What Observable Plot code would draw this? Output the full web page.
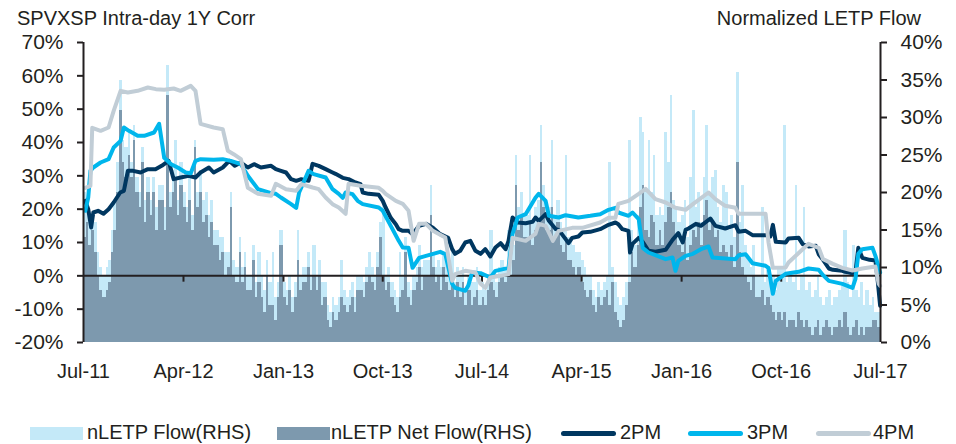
<!DOCTYPE html>
<html><head><meta charset="utf-8">
<script src="https://cdn.jsdelivr.net/npm/d3@7"></script>
<script src="https://cdn.jsdelivr.net/npm/@observablehq/plot@0.6"></script>
<style>
body{margin:0;background:#fff;font-family:"Liberation Sans",sans-serif;}
#wrap{position:relative;width:956px;height:444px;overflow:hidden;background:#fff}
.ttl{position:absolute;font-size:20px;line-height:1;color:#231f20;white-space:nowrap}
.lg{position:absolute;font-size:20px;line-height:1;color:#231f20;white-space:nowrap}
.sw{position:absolute}
</style></head>
<body><div id="wrap"></div>
<script>
// ---------- data ----------
const leftTitle = "SPVXSP Intra-day 1Y Corr";
const rightTitle = "Normalized LETP Flow";
const xTickDates = ["2011-07-01","2012-04-01","2013-01-01","2013-10-01","2014-07-01","2015-04-01","2016-01-01","2016-10-01","2017-07-01"];
const xTickLabels = ["Jul-11","Apr-12","Jan-13","Oct-13","Jul-14","Apr-15","Jan-16","Oct-16","Jul-17"];
const leftTicks = [-20,-10,0,10,20,30,40,50,60,70];
const rightTicks = [0,5,10,15,20,25,30,35,40];
const seriesNames = ["nLETP Flow(RHS)","nLETP Net Flow(RHS)","2PM","3PM","4PM"];

// weekly flow values (RHS %, 4 per month, Jul-2011 .. Jun-2017)
const netFlow = [
14,16,13,15, 12,9,7,6, 7,8,12,15, 20,31,24,22, 25,22,27,20, 18,24,16,20,
17,20,15,19, 19,15,33,18, 20,22,17,21, 18,16,19,15, 26,18,20,16, 17,14,16,13,
13,11,12,9, 10,18,9,8, 12,8,10,7, 7,11,6,8, 6,4,9,5, 5,3,6,13,
6,5,7,4, 6,11,7,8, 8,10,7,9, 7,9,5,6, 3,2,4,3, 4,6,5,4,
5,6,4,7, 7,6,8,9, 8,7,10,14, 9,7,8,6, 5,4,6,7, 12,6,5,7,
8,10,7,9, 9,17,10,8, 9,7,10,8, 7,9,6,8, 6,8,5,7, 5,6,7,5,
6,5,7,8, 7,6,8,9, 8,10,9,11, 21,15,17,14, 14,16,13,15, 16,24,18,15,
15,18,14,16, 13,12,14,11, 11,10,9,10, 8,7,6,7, 5,4,6,5, 6,7,5,8,
4,3,2,3, 5,8,12,10, 13,18,21,15, 14,17,16,13, 15,13,16,18, 20,16,14,13,
12,14,11,13, 15,14,16,13, 17,19,15,16, 14,15,12,13, 12,11,13,10, 24,12,10,9,
8,7,9,6, 6,7,5,6, 5,4,3,4, 3,4,2,3, 3,2,4,3, 2,3,2,1,
2,3,1,2, 3,2,1,2, 2,3,2,4, 2,1,2,3, 1,2,1,2, 2,3,3,2
];
const grossFlow = [
20,18,16,17, 16,12,10,9, 10,11,15,19, 24,35,27,26, 28,24,29,22, 20,26,19,22,
19,22,18,21, 21,18,37,20, 23,27,19,24, 20,18,22,17, 27,20,23,19, 20,17,19,15,
15,14,14,12, 12,20,11,10, 14,10,12,9, 9,13,8,12, 9,7,11,8, 12,6,8,15,
8,7,9,6, 8,15,9,10, 10,12,9,13, 9,11,8,8, 5,4,6,5, 6,11,7,6,
7,8,6,9, 9,8,10,12, 10,9,12,16, 19,9,10,8, 7,6,12,9, 14,8,7,9,
10,13,10,11, 11,21,12,10, 11,10,12,11, 10,12,8,10, 9,10,7,9, 8,8,10,7,
8,7,9,15, 9,8,10,11, 10,15,12,13, 25,18,20,17, 17,25,16,18, 19,29,21,18,
18,27,17,19, 16,15,25,14, 14,13,12,12, 11,10,9,9, 7,6,8,7, 8,9,24,10,
8,6,5,6, 8,27,15,13, 17,30,28,20, 27,20,25,17, 18,17,28,24, 33,19,18,16,
17,19,14,22, 31,18,20,16, 22,29,20,22, 23,18,16,21, 20,15,17,14, 36,16,21,13,
11,10,13,9, 9,18,8,10, 8,9,7,10, 10,29,8,9, 8,21,7,9, 18,7,8,6,
7,9,6,5, 6,7,5,6, 6,7,8,15, 8,6,13,7, 6,8,5,7, 5,6,4,4
];

// intraday correlation lines (LHS %)
const pm2 = [
["2011-07-06",22.5],["2011-07-14",20],["2011-07-22",14.5],["2011-07-28",19],["2011-08-10",19.5],["2011-08-25",18.6],
["2011-09-08",20],["2011-09-22",22],["2011-10-10",25],["2011-10-20",25.5],["2011-10-31",31.5],["2011-11-15",31.5],
["2011-12-05",31],["2011-12-25",32],["2012-01-15",32],["2012-02-01",33],["2012-02-20",34.5],["2012-03-05",29],
["2012-03-24",29.5],["2012-04-15",30],["2012-05-04",29.5],["2012-05-18",31],["2012-06-10",32.5],["2012-06-23",31],
["2012-07-18",32.5],["2012-08-05",34.5],["2012-08-20",33],["2012-09-06",34],["2012-09-25",32.5],["2012-10-12",33.5],
["2012-10-31",32.5],["2012-11-28",33],["2012-12-11",32],["2012-12-25",31.5],["2013-01-08",31],["2013-01-22",29],
["2013-02-05",28.5],["2013-02-19",29],["2013-03-11",28.5],["2013-03-22",33.6],["2013-04-08",33],["2013-04-27",32],
["2013-05-16",31],["2013-05-24",30.6],["2013-06-13",29.4],["2013-06-29",29],["2013-07-18",28],["2013-08-01",27.5],
["2013-08-07",25],["2013-08-23",24.6],["2013-09-20",24.3],["2013-10-01",22.5],["2013-10-09",20.5],["2013-10-23",17.4],
["2013-11-06",15.5],["2013-11-14",14],["2013-11-25",13.5],["2013-12-11",13.5],["2013-12-22",12.5],["2014-01-09",15],
["2014-01-28",15.6],["2014-02-16",14.4],["2014-03-08",12.5],["2014-03-30",11.4],["2014-04-10",8],["2014-04-18",6.6],
["2014-05-02",7.5],["2014-05-16",10],["2014-05-30",10.5],["2014-06-13",7.5],["2014-06-27",6.6],["2014-07-10",8],
["2014-07-24",5.8],["2014-08-07",8.5],["2014-08-21",9.8],["2014-09-04",8],["2014-09-12",10.5],["2014-09-23",17.5],
["2014-10-07",16],["2014-10-29",15.8],["2014-11-17",16.2],["2014-11-25",17.5],["2014-12-04",16.5],["2014-12-23",18.5],
["2015-01-01",16.5],["2015-01-20",14],["2015-01-28",13.8],["2015-02-16",11],["2015-02-24",9.8],["2015-03-06",11.4],
["2015-03-23",11.8],["2015-04-03",13],["2015-04-25",13.2],["2015-05-22",14],["2015-06-14",15.3],["2015-07-03",16],
["2015-07-11",15.5],["2015-07-22",14],["2015-08-08",13.5],["2015-08-12",7],["2015-08-19",9.6],["2015-09-05",11.4],
["2015-09-16",10.2],["2015-10-02",7.5],["2015-10-21",7.2],["2015-11-18",7.8],["2015-12-07",10.8],["2015-12-23",12.8],
["2016-01-04",10],["2016-01-12",13.8],["2016-01-20",14.2],["2016-02-09",15.6],["2016-02-23",15],["2016-03-20",17.2],
["2016-04-03",15],["2016-04-30",14.2],["2016-05-28",15.2],["2016-06-06",13.2],["2016-06-25",13.5],["2016-07-14",12.2],
["2016-08-19",12.2],["2016-09-01",11.8],["2016-09-08",15.3],["2016-09-16",10.2],["2016-10-13",10],["2016-10-21",11.2],
["2016-11-18",11.4],["2016-11-29",9.5],["2016-12-15",8.8],["2017-01-04",9],["2017-01-12",6.5],["2017-01-24",4.8],
["2017-02-09",2.2],["2017-02-20",1.8],["2017-03-18",1.5],["2017-03-26",1.2],["2017-04-15",0.8],["2017-04-23",1.0],
["2017-05-01",8.4],["2017-05-12",5.4],["2017-06-01",4.8],["2017-06-17",4.6],["2017-06-22",0],["2017-06-30",-9]
];
const pm3 = [
["2011-07-06",19.5],["2011-07-14",23.5],["2011-07-20",31.5],["2011-07-28",32.5],["2011-08-17",34],["2011-09-08",35],
["2011-09-22",38.5],["2011-10-11",40.5],["2011-10-20",44.5],["2011-11-03",43.5],["2011-11-27",42],["2011-12-15",42],
["2012-01-11",43],["2012-01-25",45.6],["2012-01-30",42],["2012-02-08",35.4],["2012-02-27",33.5],["2012-03-16",32.5],
["2012-04-07",31],["2012-04-21",30.8],["2012-05-04",34.5],["2012-05-18",35],["2012-06-23",34.8],["2012-07-18",35],
["2012-08-09",34.5],["2012-09-06",33.5],["2012-09-25",30],["2012-10-23",26],["2012-11-28",24.8],["2012-12-11",24.6],
["2012-12-25",23.5],["2013-01-22",21.5],["2013-02-05",20.4],["2013-02-13",25],["2013-03-11",31.5],["2013-03-25",30.5],
["2013-04-27",29.5],["2013-05-16",26],["2013-06-02",24.6],["2013-06-13",23.4],["2013-06-21",25],["2013-07-10",24.5],
["2013-07-24",22.5],["2013-08-07",21.5],["2013-09-20",20.5],["2013-10-01",19.5],["2013-10-23",15],["2013-11-14",10.5],
["2013-11-25",8.5],["2013-12-11",8.4],["2013-12-22",2.4],["2014-01-09",5.4],["2014-01-28",6],["2014-03-08",7.2],
["2014-03-22",6.5],["2014-04-10",-2.4],["2014-04-18",-3.6],["2014-05-16",-4.5],["2014-05-24",-3],["2014-06-04",1],
["2014-06-27",0.8],["2014-07-24",-0.5],["2014-08-07",1.5],["2014-09-12",2.4],["2014-09-23",12.6],["2014-10-07",17.5],
["2014-10-29",18.5],["2014-11-25",23.4],["2014-12-04",24.6],["2014-12-23",22.5],["2015-01-01",18],["2015-01-28",17.5],
["2015-02-16",18.2],["2015-03-23",17.5],["2015-04-25",18],["2015-05-22",18.5],["2015-06-14",19.8],["2015-07-03",20.4],
["2015-07-11",19],["2015-08-08",18],["2015-08-19",19],["2015-09-05",17],["2015-09-16",8.4],["2015-10-02",7],
["2015-10-21",6.2],["2015-11-18",5],["2015-12-07",5.5],["2015-12-15",1.5],["2015-12-23",4.5],["2016-01-12",6],
["2016-02-01",6.6],["2016-02-23",8],["2016-03-15",8.8],["2016-03-26",5.5],["2016-04-30",5.2],["2016-05-28",5],
["2016-06-06",6.2],["2016-06-25",6.5],["2016-07-14",3.8],["2016-08-19",3],["2016-08-27",2.4],["2016-09-08",-5.4],
["2016-09-16",-1.5],["2016-10-13",0.6],["2016-11-18",1.2],["2016-12-15",2.2],["2017-01-12",1.8],["2017-01-24",0.2],
["2017-02-09",-1.5],["2017-03-18",-2.4],["2017-04-15",-3.6],["2017-04-23",-1],["2017-05-01",6.6],["2017-05-12",8],
["2017-06-09",8.4],["2017-06-17",6],["2017-06-30",1]
];
const pm4 = [
["2011-07-06",26.4],["2011-07-20",27],["2011-07-25",44.4],["2011-08-17",43.5],["2011-09-08",44.5],["2011-09-22",49.5],
["2011-10-11",55.5],["2011-10-31",55],["2011-11-27",55.5],["2011-12-25",56.5],["2012-01-16",56],["2012-02-08",55.8],
["2012-03-05",56.2],["2012-03-24",55.5],["2012-04-21",57],["2012-05-04",55.5],["2012-05-18",45.6],["2012-06-23",44.5],
["2012-07-18",44],["2012-08-01",37.5],["2012-08-17",36.5],["2012-09-06",35],["2012-09-25",26.4],["2012-10-23",24.6],
["2012-11-28",24],["2012-12-11",27.6],["2013-01-08",26],["2013-02-05",25.5],["2013-02-19",27.5],["2013-03-22",26.5],
["2013-04-08",26],["2013-04-27",23.5],["2013-05-16",21.5],["2013-06-02",20.5],["2013-06-21",18.6],["2013-06-29",27.6],
["2013-08-01",27],["2013-09-20",26.4],["2013-10-01",25.5],["2013-10-09",24.6],["2013-11-06",22.5],["2013-11-25",21.6],
["2013-12-11",19.5],["2013-12-25",10.5],["2014-01-09",15.6],["2014-01-28",15.6],["2014-02-16",13.5],["2014-03-22",11.5],
["2014-04-10",-1.5],["2014-04-18",0.5],["2014-05-16",1.5],["2014-06-13",1],["2014-06-27",-2.4],["2014-07-10",-3.6],
["2014-07-24",-0.5],["2014-08-21",0],["2014-09-12",0.5],["2014-09-23",11.4],["2014-10-29",10.5],["2014-11-25",12.6],
["2014-12-04",15.6],["2014-12-23",15],["2015-01-12",10.5],["2015-01-28",13.5],["2015-03-06",14.4],["2015-04-03",14.4],
["2015-05-22",16],["2015-06-14",17.4],["2015-07-03",17.4],["2015-07-11",21.6],["2015-08-08",22.5],["2015-09-05",24.6],
["2015-09-24",26.1],["2015-10-21",23],["2015-11-18",22],["2015-12-15",20.4],["2016-01-12",19.8],["2016-02-01",21.5],
["2016-03-15",25],["2016-04-03",23],["2016-04-30",21],["2016-05-28",20.4],["2016-06-06",18.6],["2016-08-19",18.6],
["2016-08-27",10],["2016-09-08",2.4],["2016-10-13",2.5],["2016-10-21",4],["2016-12-15",9.6],["2017-01-12",8.4],
["2017-01-24",5],["2017-02-20",3.6],["2017-03-18",2.4],["2017-04-15",1.6],["2017-05-12",2.2],["2017-06-17",2.8],
["2017-06-26",-2.4],["2017-06-30",-3]
];

// ---------- build ----------
const C = {flow:"#c4e9f8", net:"#7d99ae", pm2:"#003760", pm3:"#00b6ec", pm4:"#c1cdd6", ink:"#231f20"};
const lhsMin = -20, lhsMax = 70, rhsMax = 40;
const rhs = v => lhsMin + v * (lhsMax - lhsMin) / rhsMax;   // RHS % -> LHS axis units

const flowRows = netFlow.map((n, i) => {
  const m = Math.floor(i / 4), w = i % 4;
  const yr = 2011 + Math.floor((6 + m) / 12), mo = (6 + m) % 12;
  const x1 = new Date(Date.UTC(yr, mo, 1 + 7 * w));
  const x2 = w < 3 ? new Date(Date.UTC(yr, mo, 8 + 7 * w)) : new Date(Date.UTC(yr, mo + 1, 1));
  return {x1, x2, net: n, gross: grossFlow[i]};
});
const toPts = arr => arr.map(([d, v]) => ({date: new Date(d + "T00:00:00Z"), v}));
const xTicks = xTickDates.map(d => new Date(d + "T00:00:00Z"));
const xDomain = [xTicks[0], xTicks[xTicks.length - 1]];

const chart = Plot.plot({
  width: 956, height: 400,
  marginLeft: 83, marginRight: 76, marginTop: 42, marginBottom: 58,
  style: {fontFamily: '"Liberation Sans", sans-serif', fontSize: "21px", color: C.ink, background: "transparent"},
  x: {type: "utc", domain: xDomain},
  y: {domain: [lhsMin, lhsMax]},
  marks: [
    Plot.rect(flowRows, {x1: "x1", x2: "x2", y1: () => lhsMin, y2: d => rhs(d.gross), fill: C.flow, shapeRendering: "crispEdges"}),
    Plot.rect(flowRows, {x1: "x1", x2: "x2", y1: () => lhsMin, y2: d => rhs(d.net), fill: C.net, shapeRendering: "crispEdges"}),
    Plot.ruleY([0], {stroke: C.ink, strokeWidth: 2}),
    Plot.ruleX(xTicks.slice(1, -1), {x: d => d, y1: () => 0, y2: () => -1.9, stroke: C.ink, strokeWidth: 2}),
    Plot.line(toPts(pm2), {x: "date", y: "v", stroke: C.pm2, strokeWidth: 4, strokeLinejoin: "round"}),
    Plot.line(toPts(pm3), {x: "date", y: "v", stroke: C.pm3, strokeWidth: 4, strokeLinejoin: "round"}),
    Plot.line(toPts(pm4), {x: "date", y: "v", stroke: C.pm4, strokeWidth: 4, strokeLinejoin: "round"}),
    Plot.ruleX([xDomain[0]], {stroke: C.ink, strokeWidth: 2}),
    Plot.ruleX([xDomain[1]], {stroke: C.ink, strokeWidth: 2}),
    Plot.axisY(leftTicks, {anchor: "left", tickSize: 6, tickPadding: 14, strokeWidth: 2, tickFormat: d => d + "%", label: null}),
    Plot.axisY(rightTicks.map(rhs), {anchor: "right", tickSize: 6, tickPadding: 14, strokeWidth: 2,
      tickFormat: (d, i) => rightTicks[i] + "%", label: null}),
    Plot.axisX(xTicks, {anchor: "bottom", tickSize: 0, tickPadding: 21, fontSize: 20, tickFormat: (d, i) => xTickLabels[i], label: null})
  ]
});
const wrap = document.getElementById("wrap");
chart.style.position = "absolute"; chart.style.left = "0px"; chart.style.top = "0px";
wrap.appendChild(chart);

function addDiv(cls, text, left, top) {
  const el = document.createElement("div");
  el.className = cls; el.textContent = text;
  el.style.left = left + "px"; el.style.top = top + "px";
  wrap.appendChild(el); return el;
}
addDiv("ttl", leftTitle, 17, 8);
const rt = addDiv("ttl", rightTitle, 0, 8);
rt.style.left = (921 - rt.getBoundingClientRect().width) + "px";

// legend
const lgTop = 422;
const items = [
  {name: seriesNames[0], type: "box", color: C.flow, sx: 30, tx: 87},
  {name: seriesNames[1], type: "box", color: C.net, sx: 277, tx: 331},
  {name: seriesNames[2], type: "line", color: C.pm2, sx: 561, tx: 620},
  {name: seriesNames[3], type: "line", color: C.pm3, sx: 688, tx: 747},
  {name: seriesNames[4], type: "line", color: C.pm4, sx: 816, tx: 873}
];
for (const it of items) {
  const s = document.createElement("div");
  s.className = "sw";
  s.style.left = it.sx + "px";
  s.style.background = it.color;
  if (it.type === "box") { s.style.top = "427px"; s.style.width = "53px"; s.style.height = "13px"; }
  else { s.style.top = "431px"; s.style.width = "55px"; s.style.height = "5px"; s.style.borderRadius = "3px"; }
  wrap.appendChild(s);
  addDiv("lg", it.name, it.tx, lgTop);
}
</script></body></html>
